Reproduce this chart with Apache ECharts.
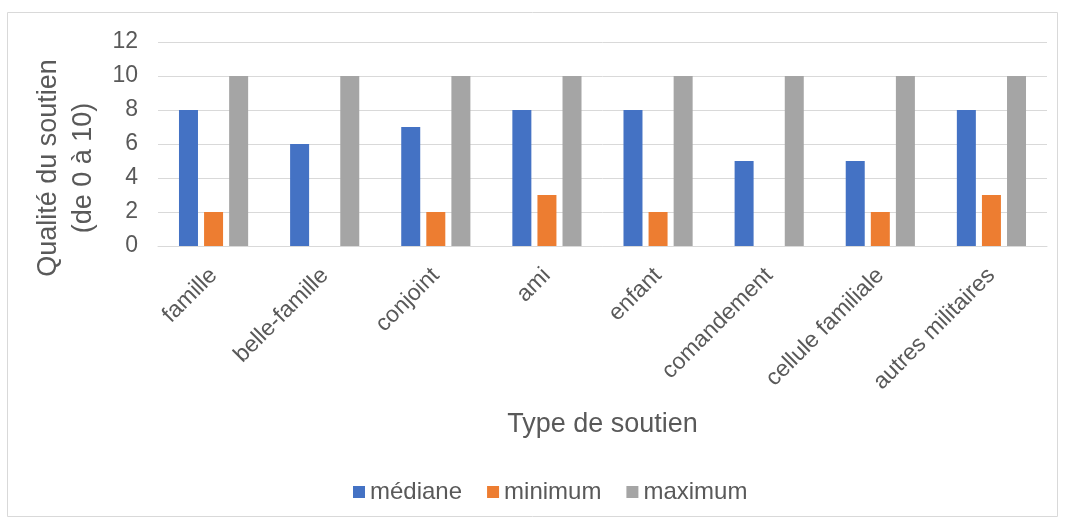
<!DOCTYPE html>
<html>
<head>
<meta charset="utf-8">
<script src="https://cdn.jsdelivr.net/npm/echarts@6/dist/echarts.min.js"></script>
<style>
    html, body { margin: 0; padding: 0; background: #fff; }
    #chart { width: 1065px; height: 521px; }
</style>
</head>
<body>
<div id="chart"></div>
<script>
const categories = ['famille', 'belle-famille', 'conjoint', 'ami', 'enfant', 'comandement', 'cellule familiale', 'autres militaires'];
const mediane = [8, 6, 7, 8, 8, 5, 5, 8];
const minimum = [2, 0, 2, 3, 2, 0, 2, 3];
const maximum = [10, 10, 10, 10, 10, 10, 10, 10];

const textColor = '#595959';
const font = 'Liberation Sans, Arial, sans-serif';

const chart = echarts.init(document.getElementById('chart'));

const barSeries = (name, data, color) => ({
    name,
    type: 'bar',
    data,
    barWidth: 19,
    barGap: '32%',
    itemStyle: { color },
    emphasis: { disabled: true }
});

chart.setOption({
    animation: false,
    textStyle: { fontFamily: font },
    graphic: [{
        type: 'rect',
        shape: { x: 7.5, y: 12.5, width: 1050, height: 504 },
        style: { fill: 'none', stroke: '#d9d9d9', lineWidth: 1 },
        silent: true
    }],
    grid: { left: 158, right: 18, top: 42, bottom: 275 },
    legend: {
        bottom: 12,
        left: 348,
        icon: 'rect',
        itemWidth: 12,
        itemHeight: 12,
        itemGap: 25,
        textStyle: { color: textColor, fontSize: 24, fontFamily: font },
        data: ['médiane', 'minimum', 'maximum']
    },
    xAxis: {
        type: 'category',
        data: categories,
        name: 'Type de soutien',
        nameLocation: 'middle',
        nameGap: 165,
        nameTextStyle: { color: textColor, fontSize: 27, fontFamily: font },
        axisLine: { lineStyle: { color: '#d9d9d9', width: 1 } },
        axisTick: { show: false },
        axisLabel: { rotate: 45, color: textColor, fontSize: 23, margin: 26, interval: 0 }
    },
    yAxis: {
        type: 'value',
        min: 0,
        max: 12,
        interval: 2,
        name: 'Qualité du soutien\n(de 0 à 10)',
        nameLocation: 'middle',
        nameGap: 55,
        nameRotate: 90,
        nameTextStyle: {
            color: textColor, fontSize: 27, lineHeight: 35, fontFamily: font, align: 'center',
            padding: [0, 48, 0, 0]
        },
        axisLine: { show: false },
        axisTick: { show: false },
        axisLabel: { color: textColor, fontSize: 23, margin: 20 },
        splitLine: { lineStyle: { color: '#d9d9d9', width: 1 } }
    },
    series: [
        barSeries('médiane', mediane, '#4472C4'),
        barSeries('minimum', minimum, '#ED7D31'),
        barSeries('maximum', maximum, '#A5A5A5')
    ]
});
</script>
</body>
</html>
